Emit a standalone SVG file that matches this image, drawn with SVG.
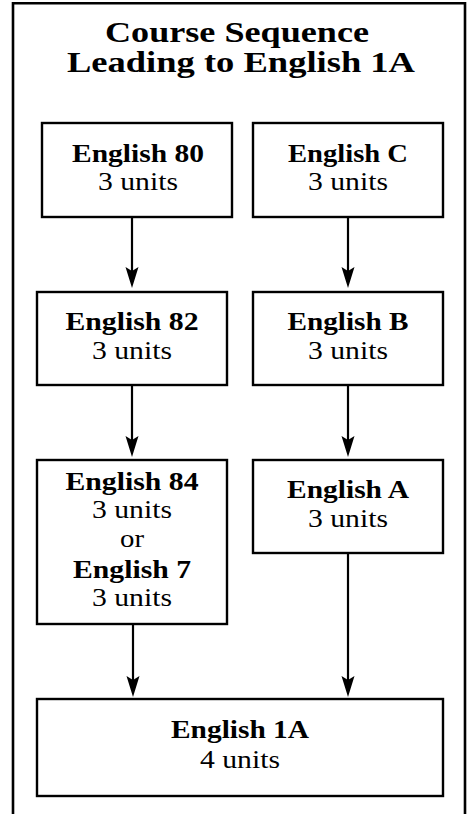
<svg xmlns="http://www.w3.org/2000/svg" width="468" height="814" viewBox="0 0 468 814">
  <style>
    .frame { fill: none; stroke: #000; stroke-width: 2.6; }
    .box { fill: #fff; stroke: #000; stroke-width: 2.4; }
    .conn { stroke: #000; stroke-width: 2.2; fill: none; }
    text { font-family: "Liberation Serif", "Times New Roman", serif; fill: #000; text-anchor: middle; }
    .title { font-size: 29px; font-weight: bold; }
    .b { font-size: 26px; font-weight: bold; }
    .r { font-size: 26px; font-weight: normal; }
  </style>
  <defs>
    <marker id="ah" markerUnits="userSpaceOnUse" viewBox="0 -7 22 14" refX="4" refY="0" markerWidth="22" markerHeight="14" orient="auto">
      <path d="M21,0 L0,-6.5 L4,0 L0,6.5 Z" fill="#000"/>
    </marker>
  </defs>
  <rect width="468" height="814" fill="#fff"/>
  <path class="frame" d="M13,816 V3.3 H465 V816"/>
  <g id="title">
    <text class="title" x="237" y="42" textLength="264" lengthAdjust="spacingAndGlyphs">Course Sequence</text>
    <text class="title" x="241" y="72" textLength="348" lengthAdjust="spacingAndGlyphs">Leading to English 1A</text>
  </g>
  <g id="connectors">
    <line class="conn" x1="132" y1="217" x2="132" y2="271" marker-end="url(#ah)"/>
    <line class="conn" x1="348" y1="217" x2="348" y2="271" marker-end="url(#ah)"/>
    <line class="conn" x1="132" y1="385" x2="132" y2="440" marker-end="url(#ah)"/>
    <line class="conn" x1="348" y1="385" x2="348" y2="440" marker-end="url(#ah)"/>
    <line class="conn" x1="133" y1="624" x2="133" y2="680" marker-end="url(#ah)"/>
    <line class="conn" x1="348" y1="553" x2="348" y2="680" marker-end="url(#ah)"/>
  </g>
  <g id="english80">
    <rect class="box" x="42" y="123" width="190" height="94"/>
    <text class="b" x="138" y="162" textLength="132" lengthAdjust="spacingAndGlyphs">English 80</text>
    <text class="r" x="138" y="190" textLength="80" lengthAdjust="spacingAndGlyphs">3 units</text>
  </g>
  <g id="englishC">
    <rect class="box" x="253" y="123" width="190" height="94"/>
    <text class="b" x="348" y="162" textLength="120" lengthAdjust="spacingAndGlyphs">English C</text>
    <text class="r" x="348" y="190" textLength="80" lengthAdjust="spacingAndGlyphs">3 units</text>
  </g>
  <g id="english82">
    <rect class="box" x="37" y="292" width="190" height="93"/>
    <text class="b" x="132" y="330" textLength="133" lengthAdjust="spacingAndGlyphs">English 82</text>
    <text class="r" x="132" y="359" textLength="80" lengthAdjust="spacingAndGlyphs">3 units</text>
  </g>
  <g id="englishB">
    <rect class="box" x="253" y="292" width="190" height="93"/>
    <text class="b" x="348" y="330" textLength="121" lengthAdjust="spacingAndGlyphs">English B</text>
    <text class="r" x="348" y="359" textLength="80" lengthAdjust="spacingAndGlyphs">3 units</text>
  </g>
  <g id="english84">
    <rect class="box" x="37" y="460" width="190" height="164"/>
    <text class="b" x="132" y="490" textLength="133" lengthAdjust="spacingAndGlyphs">English 84</text>
    <text class="r" x="132" y="518" textLength="80" lengthAdjust="spacingAndGlyphs">3 units</text>
    <text class="r" x="132" y="547" textLength="24" lengthAdjust="spacingAndGlyphs">or</text>
    <text class="b" x="132" y="578" textLength="118" lengthAdjust="spacingAndGlyphs">English 7</text>
    <text class="r" x="132" y="606" textLength="80" lengthAdjust="spacingAndGlyphs">3 units</text>
  </g>
  <g id="englishA">
    <rect class="box" x="253" y="460" width="190" height="93"/>
    <text class="b" x="348" y="498" textLength="122" lengthAdjust="spacingAndGlyphs">English A</text>
    <text class="r" x="348" y="527" textLength="80" lengthAdjust="spacingAndGlyphs">3 units</text>
  </g>
  <g id="english1A">
    <rect class="box" x="37" y="699" width="406" height="97"/>
    <text class="b" x="240" y="738" textLength="138" lengthAdjust="spacingAndGlyphs">English 1A</text>
    <text class="r" x="240" y="768" textLength="80" lengthAdjust="spacingAndGlyphs">4 units</text>
  </g>
</svg>
